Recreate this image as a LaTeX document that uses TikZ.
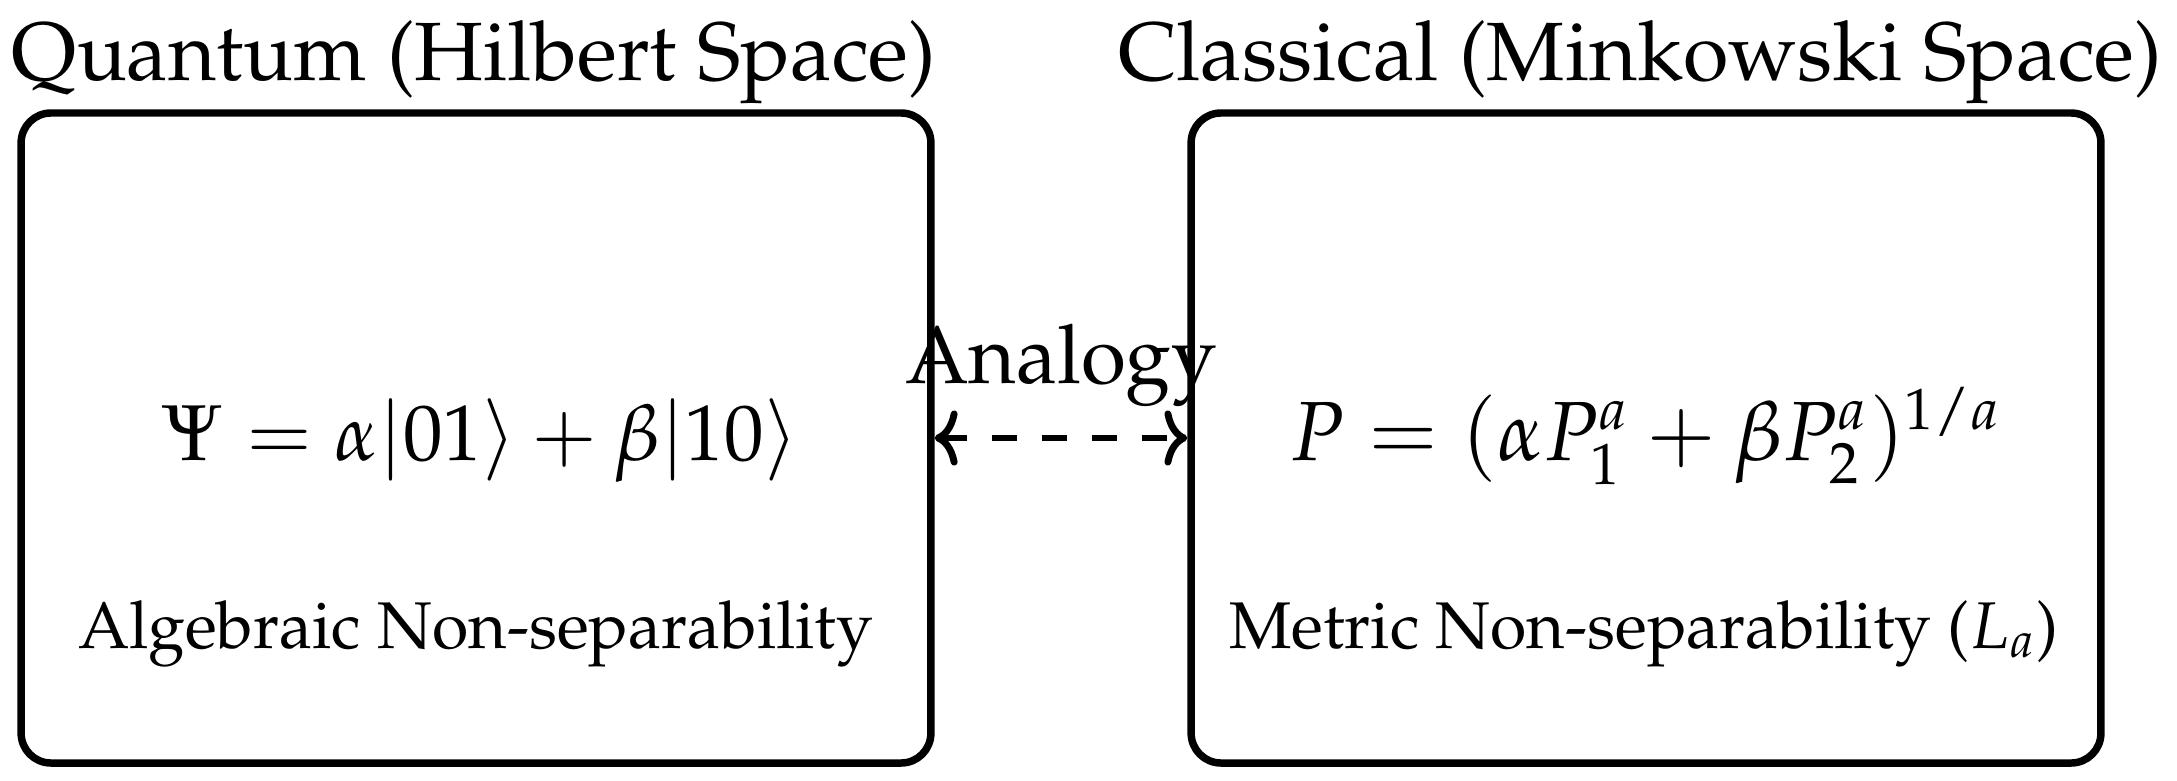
\documentclass[tikz,border=0pt]{standalone}
\usepackage[T1]{fontenc}
\usepackage{mathpazo}
\usepackage{graphicx}
\usetikzlibrary{arrows.meta}
\newlength{\natwid}
\newcommand{\bigfont}{\fontsize{14.4}{17}\selectfont}
\newcommand{\midfont}{\fontsize{12}{14}\selectfont}
\newcommand{\formL}{$\Psi = \alpha|01\rangle + \beta|10\rangle$}
\newcommand{\formR}{$P = (\alpha P_1^a + \beta P_2^a)^{1/a}$}
\newcommand{\labL}{Algebraic Non-separability}
\newcommand{\labR}{Metric Non-separability ($L_a$)}
\tikzset{
  panel/.style={draw=black, line width=1.3pt, rounded corners=5.2pt, minimum width=158.3pt, minimum height=113.1pt, inner sep=0pt},
  txt/.style={inner sep=0pt},
  linkarrow/.style={{To[length=4pt,width=9.6pt]}-{To[length=4pt,width=9.6pt]}, line width=1.2pt, dash pattern=on 4.35pt off 4.35pt}
}
\begin{document}
\settowidth{\natwid}{\bigfont\formL}\pgfmathsetmacro\sfForm{635*0.174/\natwid}%
\settowidth{\natwid}{\bigfont\formR}\pgfmathsetmacro\sfFormR{712*0.174/\natwid}%
\settowidth{\natwid}{\midfont\labL}\pgfmathsetmacro\sfLab{795*0.174/\natwid}%
\settowidth{\natwid}{\bigfont Analogy}\pgfmathsetmacro\sfAn{312*0.174/\natwid}%
\begin{tikzpicture}[x=0.174pt, y=-0.174pt]
\useasboundingbox (0,0) rectangle (2177,780);
\node[panel] (L) at (476,438) {};
\node[panel] (R) at (1646,438) {};
\node[txt, anchor=base, font=\bigfont] (tL) at (474,80) {Quantum (Hilbert Space)};
\node[txt, anchor=base, font=\bigfont] (tR) at (1640,80) {Classical (Minkowski Space)};
\node[txt, anchor=base, font=\bigfont] (fL) at (480.5,460) {\scalebox{\sfForm}{\formL}};
\node[txt, anchor=base, font=\bigfont] (fR) at (1646,460) {\scalebox{\sfFormR}{\formR}};
\node[txt, anchor=base, font=\midfont] (sL) at (475.5,648) {\scalebox{\sfLab}{\labL}};
\node[txt, anchor=base west, font=\midfont] (sR) at (1228,648) {\scalebox{\sfLab}{\labR}};
\draw[linkarrow] (L.east) -- (R.west);
\node[txt, anchor=base, font=\bigfont] (an) at (1061,383) {\scalebox{\sfAn}{Analogy}};
\end{tikzpicture}
\end{document}
